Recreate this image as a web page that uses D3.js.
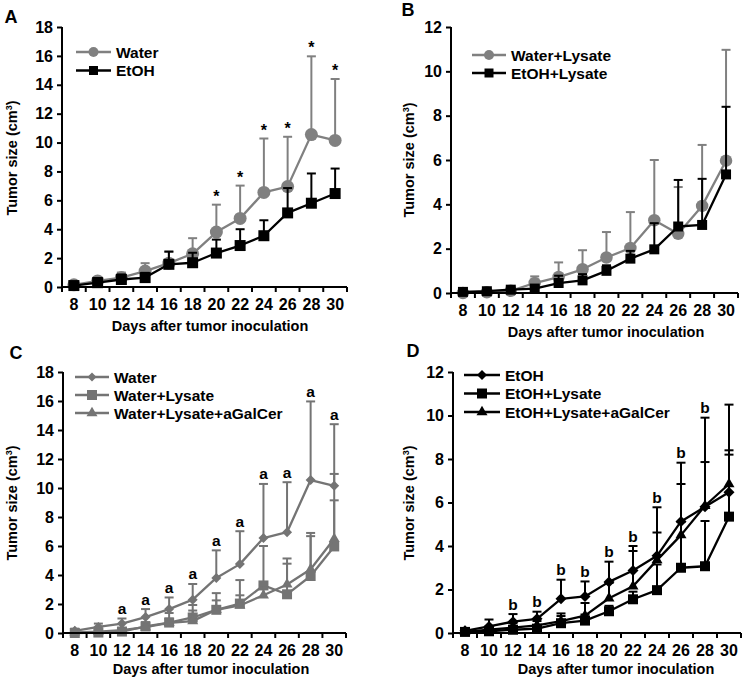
<!DOCTYPE html>
<html><head><meta charset="utf-8">
<script src="https://cdn.jsdelivr.net/npm/d3@7"></script>
<style>
body{margin:0;background:#fff;}
svg{display:block;font-family:"Liberation Sans",Arial,sans-serif;font-weight:bold;}
</style></head><body>
<svg id="chart" width="750" height="680"></svg>
<script>
// ---------- data ----------
const days = [8,10,12,14,16,18,20,22,24,26,28,30];

const waterMean = [0.15,0.42,0.65,1.10,1.65,2.30,3.80,4.75,6.55,6.95,10.55,10.15];
const waterSD   = [0.15,0.23,0.35,0.55,0.80,1.08,1.90,2.27,3.73,3.45,5.42,4.25];

const etohMean  = [0.10,0.30,0.52,0.65,1.57,1.68,2.35,2.87,3.55,5.13,5.80,6.47];
const etohSD    = [0.10,0.32,0.35,0.33,0.88,0.69,0.93,1.13,1.07,1.72,2.06,1.73];

const waterLysMean = [0.00,0.03,0.10,0.45,0.72,1.07,1.60,2.03,3.28,2.67,3.93,5.97];
const waterLysSD   = [0.05,0.07,0.10,0.30,0.66,0.86,1.15,1.62,2.72,2.11,2.75,5.00];

const etohLysMean  = [0.05,0.08,0.15,0.20,0.45,0.57,1.00,1.55,1.97,3.00,3.07,5.35];
const etohLysSD    = [0.05,0.07,0.07,0.12,0.33,0.28,0.25,0.35,1.18,2.10,2.08,3.05];

const waterGalMean = [0.05,0.10,0.20,0.40,0.70,0.82,1.60,1.90,2.60,3.35,4.40,6.50];
const waterGalSD   = [0.05,0.10,0.15,0.20,0.30,0.73,0.65,0.70,0.70,1.79,2.50,2.65];

const etohGalMean  = [0.05,0.15,0.25,0.35,0.55,0.80,1.60,2.15,3.35,4.50,5.85,6.85];
const etohGalSD    = [0.05,0.15,0.20,0.20,0.35,0.58,0.70,1.62,2.43,3.33,4.05,3.65];

const sigA = [20,22,24,26,28,30];
const sigC = [12,14,16,18,20,22,24,26,28,30];
const sigD = [12,14,16,18,20,22,24,26,28];

const yTicks18 = [0,2,4,6,8,10,12,14,16,18];
const yTicks12 = [0,2,4,6,8,10,12];

const xTitle = "Days after tumor inoculation";

// ---------- styles ----------
const GREY = "#808080", GREYC = "#747474", BLACK = "#000000";

const panels = [
  {letter:"A", letterPos:[11,23], box:{l:62,r:347,t:27,b:287}, ymax:18, ticks:yTicks18,
   ytitle:[12,158], xtitle:[210,331],
   legend:{x:76,y:52,dy:18.5,len:35},
   sig:{days:sigA, text:"*", off:3, size:16},
   series:[
     {name:"Water", mean:waterMean, sd:waterSD, color:GREY, shape:"circle", size:13, lsize:10},
     {name:"EtOH", mean:etohMean, sd:etohSD, color:BLACK, shape:"square", size:11, lsize:9}
   ]},
  {letter:"B", letterPos:[408,16], box:{l:451,r:738,t:27,b:293}, ymax:12, ticks:yTicks12,
   ytitle:[409,160], xtitle:[606,337],
   legend:{x:472,y:55,dy:18,len:34},
   sig:null,
   series:[
     {name:"Water+Lysate", mean:waterLysMean, sd:waterLysSD, color:GREY, shape:"circle", size:12.5, lsize:10},
     {name:"EtOH+Lysate", mean:etohLysMean, sd:etohLysSD, color:BLACK, shape:"square", size:10, lsize:9}
   ]},
  {letter:"C", letterPos:[16,359], box:{l:63,r:346,t:372,b:633}, ymax:18, ticks:yTicks18,
   ytitle:[12,503], xtitle:[211,674],
   legend:{x:75,y:377,dy:18,len:34},
   sig:{days:sigC, text:"a", off:4.5, size:15.5},
   series:[
     {name:"Water", mean:waterMean, sd:waterSD, color:GREYC, shape:"diamond", size:10, lsize:9},
     {name:"Water+Lysate", mean:waterLysMean, sd:waterLysSD, color:GREYC, shape:"square", size:10, lsize:10},
     {name:"Water+Lysate+aGalCer", mean:waterGalMean, sd:waterGalSD, color:GREYC, shape:"triangle", size:11, lsize:11}
   ]},
  {letter:"D", letterPos:[413,357], box:{l:453,r:741,t:372,b:633}, ymax:12, ticks:yTicks12,
   ytitle:[409,503], xtitle:[616,674],
   legend:{x:464,y:375,dy:18.5,len:36},
   sig:{days:sigD, text:"b", off:4.5, size:15.5},
   series:[
     {name:"EtOH", mean:etohMean, sd:etohSD, color:BLACK, shape:"diamond", size:11, lsize:10},
     {name:"EtOH+Lysate", mean:etohLysMean, sd:etohLysSD, color:BLACK, shape:"square", size:10, lsize:10},
     {name:"EtOH+Lysate+aGalCer", mean:etohGalMean, sd:etohGalSD, color:BLACK, shape:"triangle", size:11, lsize:11}
   ]}
];

const svg = d3.select("#chart");

function symbolPath(shape, w){
  if (shape === "circle") return d3.symbol(d3.symbolCircle, Math.PI*(w/2)*(w/2))();
  if (shape === "square") return d3.symbol(d3.symbolSquare, w*w)();
  if (shape === "diamond") { const s = w/Math.SQRT2; return d3.symbol(d3.symbolSquare, s*s)(); }
  if (shape === "triangle") return d3.symbol(d3.symbolTriangle, Math.sqrt(3)/4*w*w)();
}
function symbolRot(shape){ return shape === "diamond" ? " rotate(45)" : ""; }

panels.forEach(p => {
  const g = svg.append("g");
  const x = d3.scaleBand().domain(days).range([p.box.l, p.box.r]).paddingInner(0).paddingOuter(0);
  const cx = d => x(d) + x.bandwidth()/2;
  const y = d3.scaleLinear().domain([0, p.ymax]).range([p.box.b, p.box.t]);

  // panel letter
  g.append("text").attr("x", p.letterPos[0]).attr("y", p.letterPos[1])
    .attr("text-anchor","middle").attr("font-size",18).text(p.letter);

  // series: error bars, lines, markers
  p.series.forEach(s => {
    const sg = g.append("g");
    const eb = sg.append("g");
    days.forEach((d,i) => {
      const x0 = cx(d), ya = y(s.mean[i]), yb = y(s.mean[i] + s.sd[i]);
      eb.append("line").attr("x1",x0).attr("x2",x0).attr("y1",ya).attr("y2",yb)
        .attr("stroke",s.color).attr("stroke-width",2);
      eb.append("line").attr("x1",x0-4.5).attr("x2",x0+4.5).attr("y1",yb).attr("y2",yb)
        .attr("stroke",s.color).attr("stroke-width",2);
    });
    const line = d3.line().x((d,i)=>cx(days[i])).y(d=>y(d));
    sg.append("path").attr("d", line(s.mean)).attr("fill","none")
      .attr("stroke", s.color).attr("stroke-width",2.3).attr("stroke-linejoin","round");
    sg.selectAll("path.m").data(s.mean).enter().append("path").attr("class","m")
      .attr("d", symbolPath(s.shape, s.size))
      .attr("transform",(d,i)=>`translate(${cx(days[i])},${y(d)})${symbolRot(s.shape)}`)
      .attr("fill", s.color);
  });

  // significance labels
  if (p.sig) {
    p.sig.days.forEach(d => {
      const i = days.indexOf(d);
      const top = d3.max(p.series, s => s.mean[i] + s.sd[i]);
      g.append("text").attr("x", cx(d)).attr("y", y(top) - p.sig.off)
        .attr("text-anchor","middle").attr("font-size", p.sig.size).text(p.sig.text);
    });
  }

  // y axis
  const yAxis = d3.axisLeft(y).tickValues(p.ticks).tickSize(5).tickSizeOuter(0).tickPadding(4);
  const ya = g.append("g").attr("transform",`translate(${p.box.l},0)`).call(yAxis);
  ya.select(".domain").attr("stroke-width",2).attr("d",`M0,${p.box.b+1}V${p.box.t}`);
  ya.selectAll(".tick line").attr("stroke-width",2);
  ya.selectAll(".tick text").attr("font-size",16).attr("font-family","Liberation Sans, Arial, sans-serif").attr("font-weight","bold").attr("fill","#000");

  // x axis: labels at category centers, tick marks at category boundaries
  const xAxis = d3.axisBottom(x).tickSize(0).tickPadding(12);
  const xa = g.append("g").attr("transform",`translate(0,${p.box.b})`).call(xAxis);
  xa.select(".domain").attr("stroke-width",2).attr("d",`M${p.box.l-1},0H${p.box.r}`);
  xa.selectAll(".tick text").attr("font-size",16).attr("font-family","Liberation Sans, Arial, sans-serif").attr("font-weight","bold").attr("fill","#000");
  const bounds = days.map(d => x(d)).concat([x(days[days.length-1]) + x.bandwidth()]);
  xa.selectAll("line.bt").data(bounds).enter().append("line").attr("class","bt")
    .attr("x1",d=>d).attr("x2",d=>d).attr("y1",0).attr("y2",5)
    .attr("stroke","#000").attr("stroke-width",2);

  // axis titles
  g.append("text").attr("x", p.xtitle[0]).attr("y", p.xtitle[1])
    .attr("text-anchor","middle").attr("font-size",14.5).text(xTitle);
  const yt = g.append("text").attr("transform",`translate(${p.ytitle[0]},${p.ytitle[1]}) rotate(-90)`)
    .attr("text-anchor","middle").attr("dy","0.35em").attr("font-size",14.5);
  yt.append("tspan").text("Tumor size (cm");
  yt.append("tspan").attr("font-size",9).attr("dy","-0.6em").text("3");
  yt.append("tspan").attr("dy","0.4em").text(")");

  // legend
  p.series.forEach((s,k) => {
    const ly = p.legend.y + k*p.legend.dy;
    g.append("line").attr("x1",p.legend.x).attr("x2",p.legend.x+p.legend.len)
      .attr("y1",ly).attr("y2",ly).attr("stroke",s.color).attr("stroke-width",2.3);
    g.append("path").attr("d", symbolPath(s.shape, s.lsize))
      .attr("transform",`translate(${p.legend.x+p.legend.len/2},${ly})${symbolRot(s.shape)}`)
      .attr("fill", s.color);
    g.append("text").attr("x", p.legend.x+p.legend.len+5).attr("y", ly).attr("dy","0.36em")
      .attr("font-size",15.5).text(s.name);
  });
});
</script>
</body></html>
